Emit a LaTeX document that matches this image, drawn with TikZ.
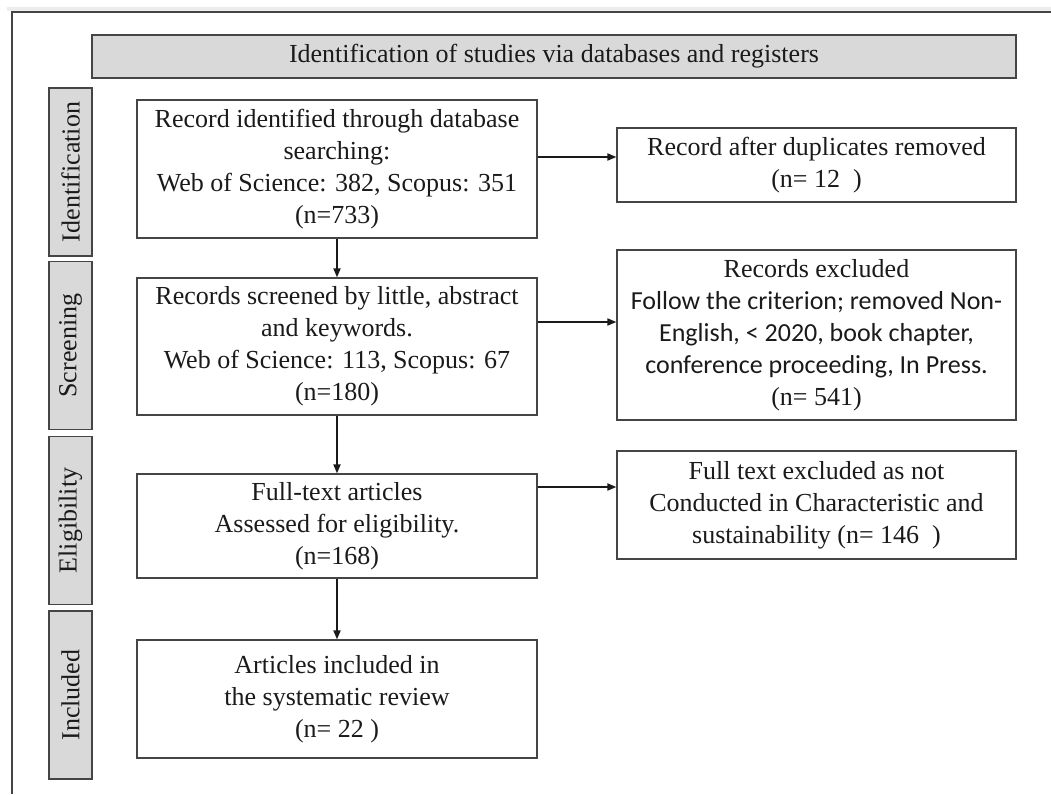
\documentclass[tikz,border=0pt]{standalone}
\usepackage{fontspec}
\setmainfont{Liberation Serif}
\newfontfamily\calibri{Carlito}
\usetikzlibrary{arrows.meta,positioning,calc}
\definecolor{Ink}{HTML}{1A1A1A}
\definecolor{Edge}{HTML}{454545}
\definecolor{Band}{HTML}{D9D9D9}
\definecolor{Shade}{HTML}{EDEDED}
\tikzset{
  stagebox/.style={draw=Edge,fill=Band,line width=0.75pt,rotate=90,minimum width=84pt,minimum height=21.5pt,inner sep=0pt,font=\fontsize{13}{16}\selectfont,text=Ink},
  flowbox/.style={draw=Edge,line width=0.7pt,align=center,inner sep=0pt,font=\fontsize{13}{16}\selectfont,text=Ink},
  leftbox/.style={flowbox,minimum width=200pt},
  rightbox/.style={flowbox,minimum width=199.5pt},
  link/.style={-{Triangle[length=4.5pt,width=3.6pt]},line width=0.75pt,Ink}
}
\begin{document}
\begin{tikzpicture}[x=0.5pt,y=-0.5pt]
\useasboundingbox (0,0) rectangle (1051,794);
\fill[Shade] (7,7) rectangle (1051,11);
\draw[Edge,line width=0.8pt] (12,794) -- (12,12) -- (1051,12);
\node[draw=Edge,fill=Band,line width=0.75pt,minimum width=462pt,minimum height=21.5pt,inner sep=0pt,font=\fontsize{13}{16}\selectfont,text=Ink] (head) at (554,56.5) {Identification of studies via databases and registers};
\node[stagebox] (stid) at (70.5,172) {Identification};
\node[stagebox] (stsc) at (70.5,345.5) {Screening};
\node[stagebox] (stel) at (70.5,520.5) {Eligibility};
\node[stagebox] (stin) at (70.5,695) {Included};
\node[leftbox,minimum height=69pt] (found) at (337,169) {Record identified through database\\searching:\\Web of Science: 382, Scopus: 351\\(n=733)};
\node[rightbox,minimum height=37pt] (dupes) at (816.5,165) {Record after duplicates removed\\(n=~12~~)};
\node[leftbox,minimum height=68.5pt] (screen) at (337,346.5) {Records screened by little, abstract\\and keywords.\\Web of Science: 113, Scopus: 67\\(n=180)};
\node[rightbox,minimum height=85pt] (drop) at (816.5,335) {Records excluded\\{\calibri Follow the criterion; removed Non-}\\{\calibri English, < 2020, book chapter,}\\{\calibri conference proceeding, In Press.}\\(n=~541)};
\node[leftbox,minimum height=52pt] (fulltext) at (337,526) {Full-text articles\\Assessed for eligibility.\\(n=168)};
\node[rightbox,minimum height=54pt] (notfit) at (816.5,505) {Full text excluded as not\\Conducted in Characteristic and\\sustainability (n=~146~~)};
\node[leftbox,minimum height=59pt] (kept) at (337,699) {Articles included in\\the systematic review\\(n=~22~)};
\coordinate (a1) at ([yshift=6pt]found.east);
\coordinate (a2) at ([yshift=12.25pt]screen.east);
\coordinate (a3) at ([yshift=19.5pt]fulltext.east);
\draw[link] (a1) -- (a1 -| dupes.west);
\draw[link] (a2) -- (a2 -| drop.west);
\draw[link] (a3) -- (a3 -| notfit.west);
\draw[link] (found) -- (screen);
\draw[link] (screen) -- (fulltext);
\draw[link] (fulltext) -- (kept);
\end{tikzpicture}
\end{document}
